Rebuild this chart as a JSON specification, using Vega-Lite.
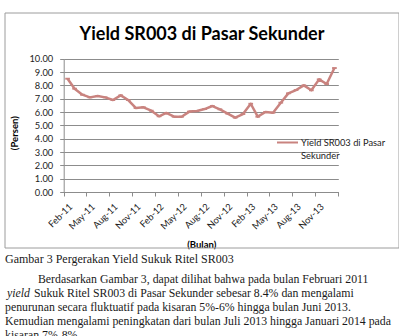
{
  "$schema": "https://vega.github.io/schema/vega-lite/v6.json",
  "padding": {"left": 4, "top": 12, "right": 0, "bottom": 0},
  "background": "white",
  "spacing": 3,
  "config": {"font": "Lato", "view": {"stroke": null}},
  "vconcat": [
    {
      "width": 394,
      "height": 235,
      "title": {"text": "Yield SR003 di Pasar Sekunder", "font": "Lato", "fontSize": 18, "fontWeight": "bold", "color": "#000000", "anchor": "middle", "frame": "group", "offset": 0, "baseline": "top", "dy": 31},
      "data": {"values": [
        {"date": "2011-02-01", "yield": 8.5},
        {"date": "2011-03-01", "yield": 7.75},
        {"date": "2011-04-01", "yield": 7.3},
        {"date": "2011-05-01", "yield": 7.1},
        {"date": "2011-06-01", "yield": 7.2},
        {"date": "2011-07-01", "yield": 7.1},
        {"date": "2011-08-01", "yield": 6.9},
        {"date": "2011-09-01", "yield": 7.25},
        {"date": "2011-10-01", "yield": 6.9},
        {"date": "2011-11-01", "yield": 6.3},
        {"date": "2011-12-01", "yield": 6.35},
        {"date": "2012-01-01", "yield": 6.1},
        {"date": "2012-02-01", "yield": 5.68},
        {"date": "2012-03-01", "yield": 5.93},
        {"date": "2012-04-01", "yield": 5.65},
        {"date": "2012-05-01", "yield": 5.65},
        {"date": "2012-06-01", "yield": 6.03},
        {"date": "2012-07-01", "yield": 6.08},
        {"date": "2012-08-01", "yield": 6.22},
        {"date": "2012-09-01", "yield": 6.45},
        {"date": "2012-10-01", "yield": 6.2},
        {"date": "2012-11-01", "yield": 5.88},
        {"date": "2012-12-01", "yield": 5.58},
        {"date": "2013-01-01", "yield": 5.85},
        {"date": "2013-02-01", "yield": 6.62},
        {"date": "2013-03-01", "yield": 5.65},
        {"date": "2013-04-01", "yield": 6.0},
        {"date": "2013-05-01", "yield": 5.95},
        {"date": "2013-06-01", "yield": 6.7},
        {"date": "2013-07-01", "yield": 7.4},
        {"date": "2013-08-01", "yield": 7.65},
        {"date": "2013-09-01", "yield": 8.0},
        {"date": "2013-10-01", "yield": 7.63},
        {"date": "2013-11-01", "yield": 8.45},
        {"date": "2013-12-01", "yield": 8.1},
        {"date": "2014-01-01", "yield": 9.3}
      ]},
      "layer": [
        {
          "data": {"values": [{"frame": 1}]},
          "mark": {"type": "rect", "fill": "#ffffff", "fillOpacity": 0, "stroke": "#9c9c9c", "strokeWidth": 1, "strokeOpacity": 1},
          "encoding": {
            "x": {"value": 0},
            "x2": {"value": "width"},
            "y": {"value": 0},
            "y2": {"value": "height"}
          }
        },
        {
          "mark": {"type": "line", "strokeWidth": 2.5, "strokeJoin": "round",
            "point": {"shape": "M-1,-0.4H1V0.4H-1Z", "filled": true, "size": 22, "opacity": 1}},
          "encoding": {
            "x": {
              "field": "date", "type": "temporal",
              "scale": {"type": "utc", "domain": [{"year": 2011, "month": 1, "date": 16, "hours": 12, "utc": true}, {"year": 2014, "month": 1, "date": 16, "hours": 12, "utc": true}], "range": [58.7, 333.3]},
              "axis": {
                "title": "(Bulan)", "offset": -56,
                "values": [
                  {"year": 2011, "month": 1, "date": 16, "hours": 12, "utc": true},
                  {"year": 2011, "month": 4, "date": 16, "hours": 12, "utc": true},
                  {"year": 2011, "month": 7, "date": 16, "hours": 12, "utc": true},
                  {"year": 2011, "month": 10, "date": 16, "hours": 12, "utc": true},
                  {"year": 2012, "month": 1, "date": 16, "hours": 12, "utc": true},
                  {"year": 2012, "month": 4, "date": 16, "hours": 12, "utc": true},
                  {"year": 2012, "month": 7, "date": 16, "hours": 12, "utc": true},
                  {"year": 2012, "month": 10, "date": 16, "hours": 12, "utc": true},
                  {"year": 2013, "month": 1, "date": 16, "hours": 12, "utc": true},
                  {"year": 2013, "month": 4, "date": 16, "hours": 12, "utc": true},
                  {"year": 2013, "month": 7, "date": 16, "hours": 12, "utc": true},
                  {"year": 2013, "month": 10, "date": 16, "hours": 12, "utc": true},
                  {"year": 2014, "month": 1, "date": 16, "hours": 12, "utc": true}
                ],
                "labelExpr": "datum.value > 1388534400000 ? '' : utcFormat(datum.value + 1382400000, '%b-%y')",
                "labelAngle": -45, "labelAlign": "right", "labelBaseline": "top",
                "labelFontSize": 9.3, "labelColor": "#222222", "labelPadding": 6, "labelOffset": 3.8,
                "labelOverlap": false, "labelFlush": false, "labelBound": false,
                "tickSize": 4, "tickColor": "#8c8c8c", "domainColor": "#8c8c8c", "grid": false,
                "titleFontSize": 9.5, "titleFontWeight": "bold", "titleColor": "#000000",
                "titleX": 196.3, "titleY": 52.5, "titleBaseline": "middle", "titleAlign": "center"
              }
            },
            "y": {
              "field": "yield", "type": "quantitative",
              "scale": {"domain": [0, 10], "range": [179, 45.7], "nice": false},
              "axis": {
                "title": "(Persen)", "offset": -58.7,
                "values": [0, 1, 2, 3, 4, 5, 6, 7, 8, 9, 10], "format": ".2f",
                "labelFontSize": 9.3, "labelColor": "#222222", "labelPadding": 7,
                "tickSize": 4, "tickColor": "#8c8c8c", "domainColor": "#8c8c8c",
                "grid": true, "gridColor": "#8c8c8c", "gridWidth": 1,
                "titleFontSize": 9.5, "titleFontWeight": "bold", "titleColor": "#000000",
                "titleX": -49.4, "titleY": 119.7, "titleAngle": -90, "titleBaseline": "middle", "titleAlign": "center"
              }
            },
            "color": {
              "datum": "Yield SR003 di Pasar Sekunder",
              "scale": {"range": ["#c9837f"]},
              "legend": {
                "orient": "none", "legendX": 271, "legendY": 118, "title": null,
                "symbolType": "stroke", "symbolSize": 441, "symbolStrokeWidth": 2,
                "labelFontSize": 9.3, "labelColor": "#222222", "labelOffset": 2, "labelLimit": 0,
                "labelExpr": "['Yield SR003 di Pasar', 'Sekunder']",
                "labelBaseline": "alphabetic", "padding": 0,
                "encode": {"labels": {"update": {"lineHeight": {"value": 13.3}, "dy": {"value": 3.3}}}}
              }
            }
          }
        }
      ]
    },
    {
      "width": 394,
      "height": 56,
      "title": {"text": "Gambar 3 Pergerakan Yield Sukuk Ritel SR003", "anchor": "start", "frame": "group", "font": "Liberation Serif", "fontSize": 12, "fontWeight": "normal", "color": "#1a1a1a", "offset": 8.3},
      "layer": [
        {
          "data": {"values": [
            {"line": 3, "text": "penurunan secara fluktuatif pada kisaran 5%-6% hingga bulan Juni 2013."},
            {"line": 4, "text": "Kemudian mengalami peningkatan dari bulan Juli 2013 hingga Januari 2014 pada"},
            {"line": 5, "text": "kisaran 7%-8%."}
          ]},
          "mark": {"type": "text", "align": "left", "baseline": "alphabetic", "font": "Liberation Serif", "fontSize": 11.8, "color": "#1a1a1a"},
          "encoding": {
            "x": {"value": 0},
            "y": {"field": "line", "type": "ordinal", "scale": {"type": "point", "padding": 0}, "axis": null},
            "text": {"field": "text"}
          }
        },
        {
          "data": {"values": [
            {"line": 1, "text": "Berdasarkan Gambar 3, dapat dilihat bahwa pada bulan Februari 2011"}
          ]},
          "mark": {"type": "text", "align": "left", "baseline": "alphabetic", "font": "Liberation Serif", "fontSize": 11.8, "color": "#1a1a1a", "dx": 33},
          "encoding": {
            "x": {"value": 0},
            "y": {"field": "line", "type": "ordinal", "scale": {"type": "point", "padding": 0}, "axis": null},
            "text": {"field": "text"}
          }
        },
        {
          "data": {"values": [
            {"line": 2, "text": "Sukuk Ritel SR003 di Pasar Sekunder sebesar 8.4% dan mengalami"}
          ]},
          "mark": {"type": "text", "align": "left", "baseline": "alphabetic", "font": "Liberation Serif", "fontSize": 11.8, "color": "#1a1a1a", "dx": 29},
          "encoding": {
            "x": {"value": 0},
            "y": {"field": "line", "type": "ordinal", "scale": {"type": "point", "padding": 0}, "axis": null},
            "text": {"field": "text"}
          }
        },
        {
          "data": {"values": [{"line": 2, "text": "yield"}]},
          "mark": {"type": "text", "align": "left", "baseline": "alphabetic", "font": "Liberation Serif", "fontSize": 11.8, "fontStyle": "italic", "color": "#1a1a1a", "dx": 2},
          "encoding": {
            "x": {"value": 0},
            "y": {"field": "line", "type": "ordinal", "scale": {"type": "point", "padding": 0}, "axis": null},
            "text": {"field": "text"}
          }
        }
      ]
    }
  ]
}
